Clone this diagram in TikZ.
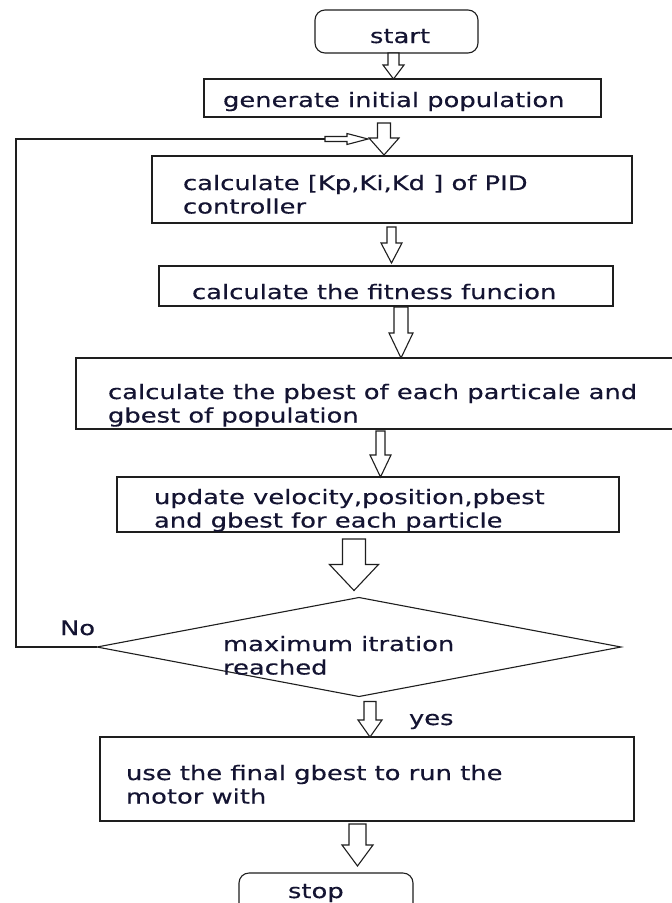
\documentclass[tikz,border=0pt]{standalone}
\usepackage{fontspec}
\setmainfont[FakeStretch=1.29,FakeBold=0.4]{DejaVu Sans}
\usetikzlibrary{shapes.geometric,calc}
\definecolor{inkc}{RGB}{30,30,30}
\definecolor{textc}{RGB}{20,20,50}
% block arrow: #1 x, #2 source node, #3 target node, #4 shaft half width,
% #5 head half width, #6 head length, #7 gap below source, #8 gap above target
\newcommand\barrow[8]{%
  \draw[blockarrow] let \p1=(#2.south), \p2=(#3.north) in
    (#1pt-#4pt,\y1-#7pt) -- (#1pt+#4pt,\y1-#7pt) -- (#1pt+#4pt,\y2+#8pt+#6pt)
    -- (#1pt+#5pt,\y2+#8pt+#6pt) -- (#1pt,\y2+#8pt) -- (#1pt-#5pt,\y2+#8pt+#6pt)
    -- (#1pt-#4pt,\y2+#8pt+#6pt) -- cycle;}
\begin{document}
\begin{tikzpicture}[x=1pt,y=-1pt,
  box/.style={draw=inkc,line width=1.1pt,rectangle,inner sep=0pt,outer sep=0pt},
  term/.style={box,rounded corners=10pt},
  decision/.style={draw=inkc,line width=1.1pt,diamond,inner sep=0pt,outer sep=0pt,
    minimum width=524pt,minimum height=99pt},
  txt/.style={text=textc,inner sep=0pt,outer sep=0pt,
    font=\fontsize{20}{23.5}\selectfont,align=left,anchor=north west},
  blockarrow/.style={draw=inkc,line width=1.1pt,fill=white,line join=miter},
  feedback/.style={draw=inkc,line width=1.1pt}]
\fill[white] (0,0) rectangle (672,903);
\useasboundingbox (0,0) rectangle (672,903);

% boxes
\node[term,minimum width=163pt,minimum height=43pt] (start) at (396.5,31.5) {};
\node[box,minimum width=397pt,minimum height=38pt] (gen) at (402.5,98) {};
\node[box,minimum width=480pt,minimum height=67pt] (kp) at (392,189.5) {};
\node[box,minimum width=454pt,minimum height=40pt] (fit) at (386,286) {};
\node[box,minimum width=624pt,minimum height=71pt] (pb) at (388,393.5) {};
\node[box,minimum width=502pt,minimum height=55pt] (up) at (368,504.5) {};
\node[decision] (dec) at (359,647) {};
\node[box,minimum width=534pt,minimum height=84pt] (fin) at (367,779) {};
\node[term,minimum width=174pt,minimum height=50pt] (stop) at (326,898) {};

% texts
\node[txt] (tstart) at (370,26.55) {\strut start};
\node[txt] (tgen) at (223,90.55) {\strut generate initial population};
\node[txt] (tkp) at (183,173.55) {\strut calculate [Kp,Ki,Kd ] of PID\\controller};
\node[txt] (tfit) at (192,282.55) {\strut calculate the fitness funcion};
\node[txt] (tpb) at (108,382.55) {\strut calculate the pbest of each particale and\\gbest of population};
\node[txt] (tup) at (154,487.55) {\strut update velocity,position,pbest\\and gbest for each particle};
\node[txt] (tdec) at (223,634.55) {\strut maximum itration\\reached};
\node[txt] (tfin) at (126,763.55) {\strut use the final gbest to run the\\motor with};
\node[txt] (tstop) at (288,881.55) {\strut stop};
\node[txt] (tno) at (60,618.55) {\strut No};
\node[txt] (tyes) at (409,708.55) {\strut yes};

% block arrows
\barrow{393.5}{start}{gen}{5.5}{10.5}{14}{0}{0}
\barrow{384}{gen}{kp}{6.5}{15}{17}{6}{1}
\barrow{391.5}{kp}{fit}{4.5}{10.5}{20}{4}{3}
\barrow{401}{fit}{pb}{7}{12}{25}{1}{0}
\barrow{380.5}{pb}{up}{4.5}{10.5}{22}{2}{0}
\barrow{354}{up}{dec}{11.5}{24.5}{26}{7}{7}
\barrow{370}{dec}{fin}{6}{12}{17}{5}{0}
\barrow{357.5}{fin}{stop}{8.5}{15.5}{21}{3}{7}

% feedback loop (No)
\coordinate (fbcorner1) at (16,647);
\coordinate (fbcorner2) at (16,139);
\coordinate (fbstart) at (325,139);
\coordinate (fbtip) at (368,139);
\draw[feedback] (dec.west) -- (fbcorner1) -- (fbcorner2) -- (fbstart);
\draw[blockarrow] let \p1=(fbstart), \p2=(fbtip) in
  (\x1,\y1+2.5pt) -- (\x2-21pt,\y1+2.5pt) -- (\x2-21pt,\y1+5.5pt) -- (\x2,\y2)
  -- (\x2-21pt,\y1-5.5pt) -- (\x2-21pt,\y1-2.5pt) -- (\x1,\y1-2.5pt) -- cycle;
\end{tikzpicture}
\end{document}
